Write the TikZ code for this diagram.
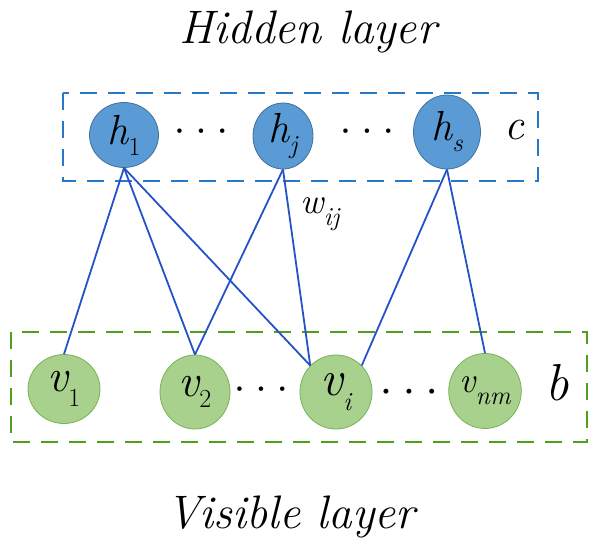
\documentclass[tikz,border=0pt]{standalone}
\usetikzlibrary{shapes.geometric}
\definecolor{hfill}{RGB}{91,155,213}
\definecolor{hedge}{RGB}{65,113,156}
\definecolor{vfill}{RGB}{169,209,142}
\definecolor{vedge}{RGB}{120,178,82}
\definecolor{wirecol}{RGB}{38,82,200}
\definecolor{hboxcol}{RGB}{40,120,200}
\definecolor{vboxcol}{RGB}{80,158,30}
\newcommand\lab[3]{#1\raisebox{-#3}{\fontsize{26}{26}\selectfont #2}}
\newcommand\threedots{\textbullet\hspace{7pt}\textbullet\hspace{7pt}\textbullet}
\begin{document}
\begin{tikzpicture}[x=1pt, y=-1pt,
    hnode/.style={ellipse, draw=hedge, fill=hfill, line width=0.8pt, inner sep=0pt,
      font=\fontsize{42}{42}\selectfont\itshape},
    vnode/.style={ellipse, draw=vedge, fill=vfill, line width=0.8pt, inner sep=0pt,
      font=\fontsize{46}{46}\selectfont\itshape},
    wire/.style={draw=wirecol, line width=1.8pt},
    layerbox/.style={line width=2pt, dash pattern=on 17pt off 11pt},
    dots/.style={font=\fontsize{20}{20}\selectfont},
    title/.style={anchor=base, font=\fontsize{47}{47}\selectfont\itshape}]
    \useasboundingbox (0, 0) rectangle (600, 549);
    \node[title] (hid) at (308, 43) {Hidden layer};
    \node[title] (vis) at (291, 528) {Visible layer};
    \draw[layerbox, hboxcol] (63, 93) rectangle (538, 181);
    \draw[layerbox, vboxcol] (11, 332) rectangle (587, 442);
    \node[hnode, minimum width=69pt, minimum height=65pt] (h1) at (124, 135) {\lab{h}{\textup{1}}{11pt}};
    \node[hnode, minimum width=60pt, minimum height=66pt] (hj) at (283, 136) {\lab{h}{j}{11pt}};
    \node[hnode, minimum width=67pt, minimum height=74pt] (hs) at (447, 132) {\lab{h}{s}{11pt}};
    \node[dots] (hd1) at (201, 133) {\threedots};
    \node[dots] (hd2) at (367, 133) {\threedots};
    \node[font=\fontsize{44}{44}\selectfont\itshape] (c) at (514, 130) {c};
    \node[vnode, minimum width=72pt, minimum height=69pt] (v1) at (64, 389) {\lab{v}{\textup{1}}{15pt}};
    \node[vnode, minimum width=70pt, minimum height=74pt] (v2) at (195, 392) {\lab{v}{\textup{2}}{11pt}};
    \node[vnode, minimum width=72pt, minimum height=74pt, font=\fontsize{50}{50}\selectfont\itshape] (vi) at (336, 392) {\lab{v}{i}{15pt}};
    \node[vnode, minimum width=69pt, minimum height=75pt, font=\fontsize{36}{36}\selectfont\itshape] (vnm) at (485, 391) {\lab{v}{nm}{12pt}};
    \node[dots] (vd1) at (261, 391) {\threedots};
    \node[dots, font=\fontsize{22}{22}\selectfont] (vd2) at (409, 393) {\threedots};
    \node[font=\fontsize{52}{52}\selectfont\itshape] (b) at (557, 383) {b};
    \node[font=\fontsize{36}{36}\selectfont\itshape] (w) at (320, 214) {\lab{w}{ij}{12pt}};
    \draw[wire] (h1.south) -- (v1.north);
    \draw[wire] (h1.south) -- (v2.north);
    \draw[wire] (h1.south) -- (vi.north west);
    \draw[wire] (hj.south) -- (v2.north);
    \draw[wire] (hj.south) -- (vi.north west);
    \draw[wire] (hs.south) -- (vi.north east);
    \draw[wire] (hs.south) -- (vnm.north);
\end{tikzpicture}
\end{document}
